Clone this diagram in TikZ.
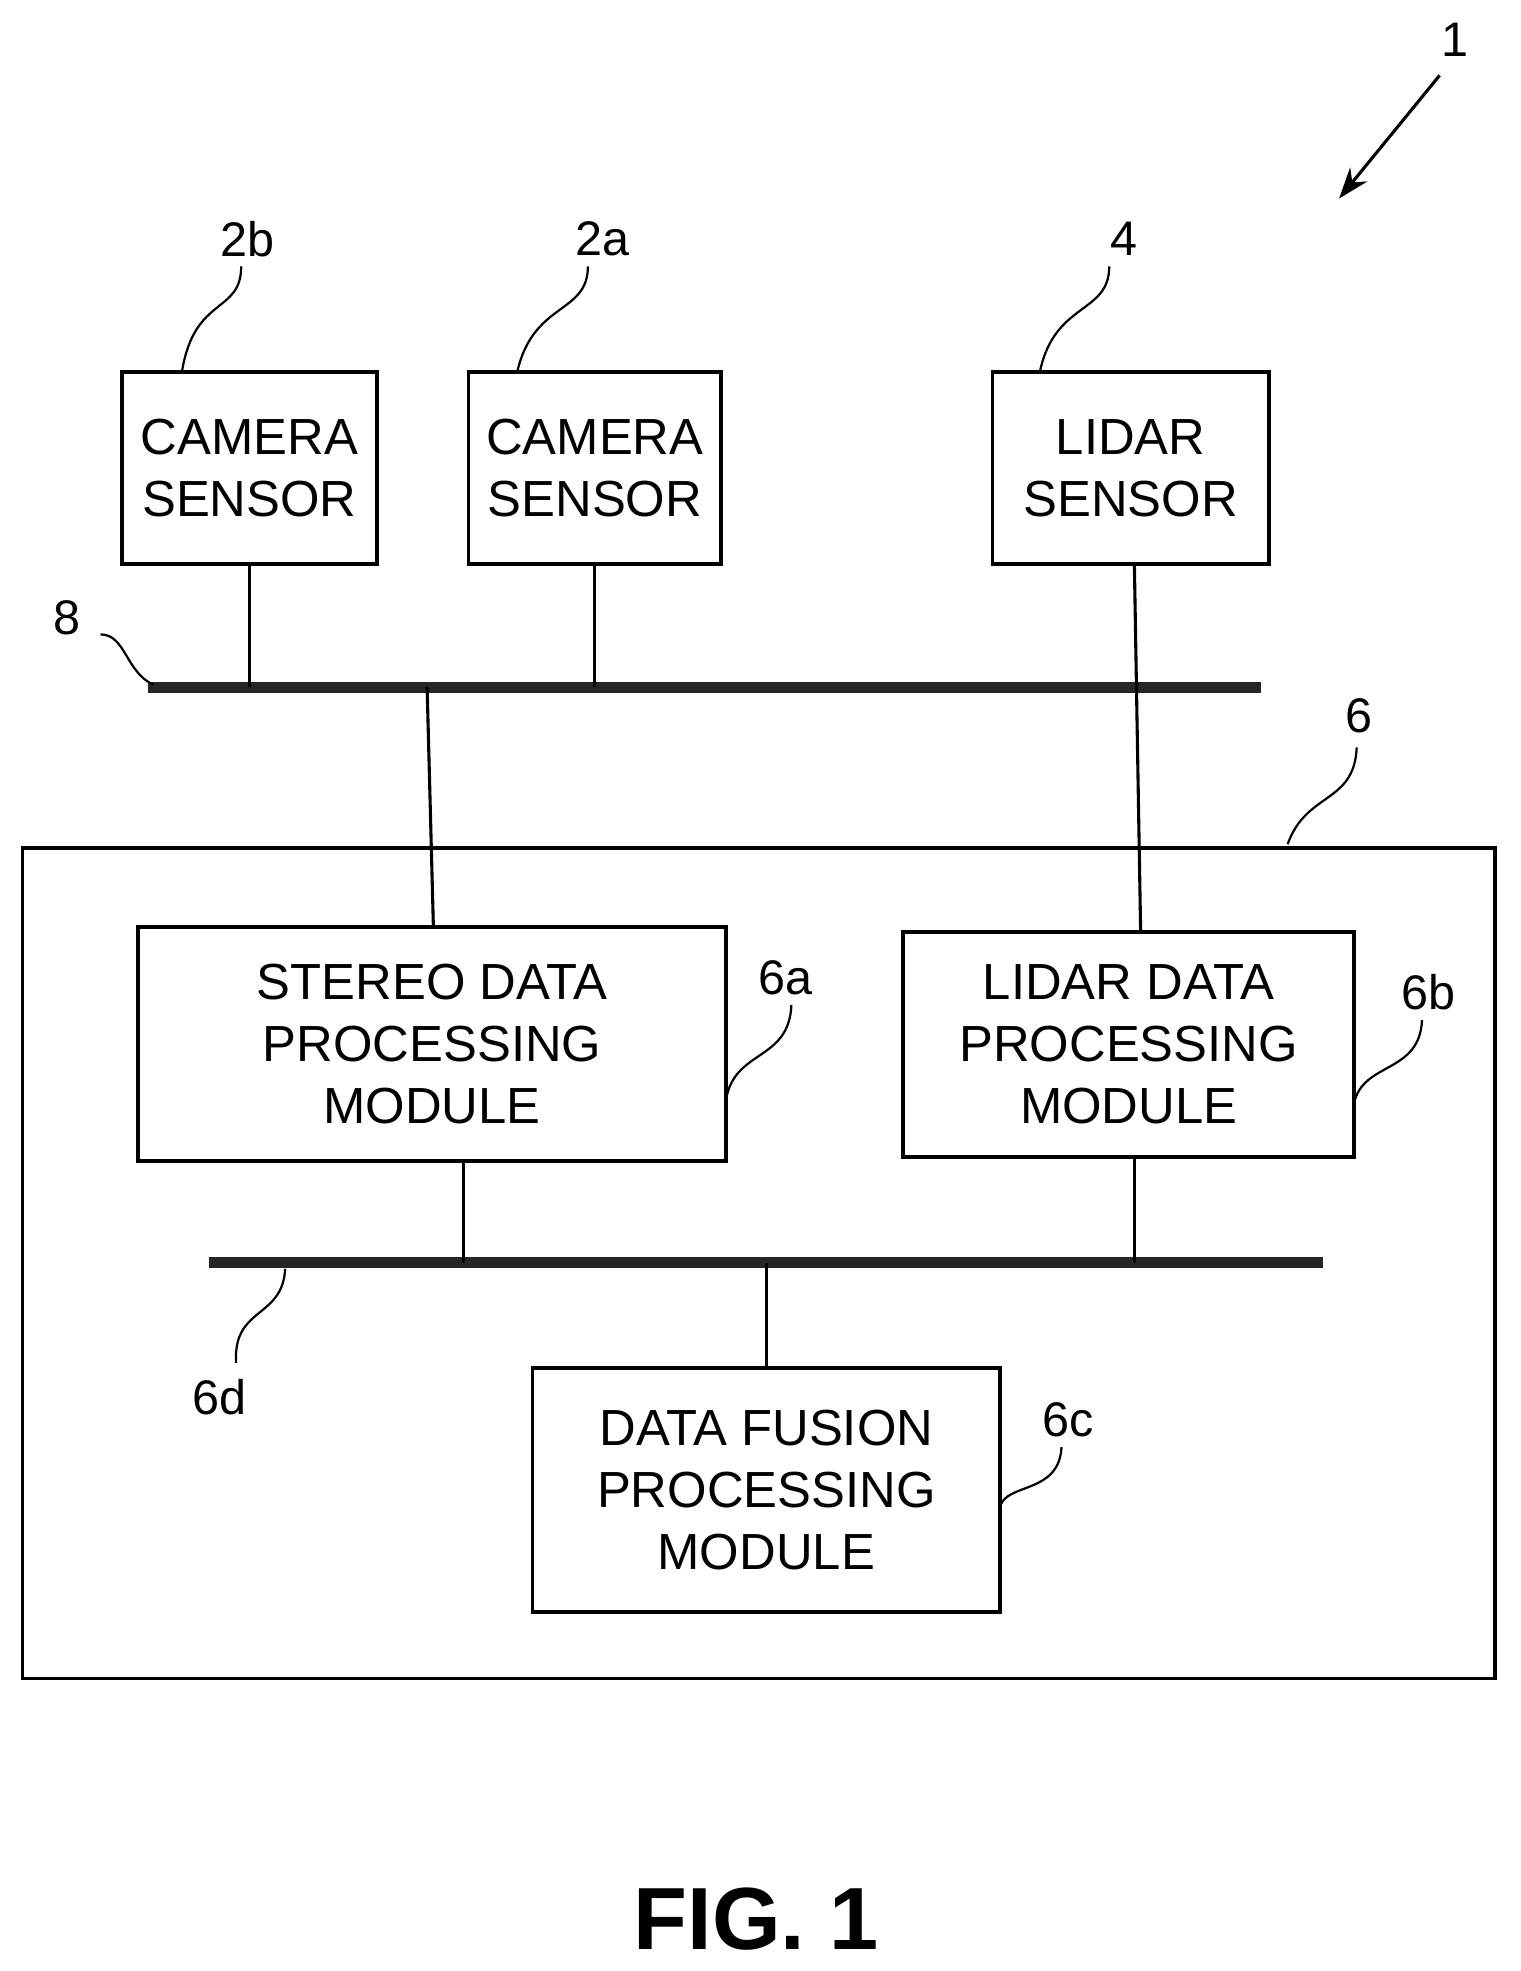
\documentclass[tikz,border=0pt]{standalone}
\usepackage{fontspec}
\setmainfont{Liberation Sans}
\usetikzlibrary{arrows.meta}
\begin{document}
\begin{tikzpicture}[x=0.02cm,y=-0.02cm,
 box/.style={draw,line width=1.6pt,align=center,font=\fontsize{23}{28}\selectfont,inner sep=0pt},
 bus/.style={line width=5pt,draw=black!85},
 wire/.style={line width=1.4pt},
 lab/.style={font=\fontsize{22}{26}\selectfont},
 lead/.style={line width=1pt}]
\useasboundingbox (0,0) rectangle (1210,1569);
% boxes
\node[box,minimum width=203*0.02cm,minimum height=153*0.02cm] (c2b) at (198.5,372.5) {CAMERA\\SENSOR};
\node[box,minimum width=201*0.02cm,minimum height=153*0.02cm] (c2a) at (473.5,372.5) {CAMERA\\SENSOR};
\node[box,minimum width=220*0.02cm,minimum height=153*0.02cm] (lid) at (900,372.5) {LIDAR\\SENSOR};
\node[draw,line width=1.6pt,minimum width=1172*0.02cm,minimum height=661*0.02cm,inner sep=0pt] (ecu) at (604,1005.5) {};
\node[box,minimum width=468*0.02cm,minimum height=186*0.02cm] (sdp) at (344,831) {STEREO DATA\\PROCESSING\\MODULE};
\node[box,minimum width=359*0.02cm,minimum height=179*0.02cm] (ldp) at (898.5,831.5) {LIDAR DATA\\PROCESSING\\MODULE};
\node[box,minimum width=372*0.02cm,minimum height=194*0.02cm] (dfp) at (610,1186) {DATA FUSION\\PROCESSING\\MODULE};
% buses
\coordinate (b8l) at (118,547); \coordinate (b8r) at (1004,547);
\coordinate (b6l) at (166,1005); \coordinate (b6r) at (1053,1005);
\draw[bus] (b8l) -- (b8r);
\draw[bus] (b6l) -- (b6r);
% wires
\draw[wire] (c2b.south) -- (c2b.south |- b8l);
\draw[wire] (c2a.south) -- (c2a.south |- b8l);
\draw[wire] (903,449) -- (908,742);
\draw[wire] (340,547) -- (345,738);
\draw[wire] (369,924) -- (369,1005);
\draw[wire] (903,921) -- (903,1005);
\draw[wire] (610,1005) -- (dfp.north);
% labels
\node[lab] (l1) at (1158,32) {1};
\draw[line width=1.4pt,-{Stealth[length=14pt,width=10pt]}] (1146,60) -- (1066,158);
\node[lab] (l2b) at (197,190) {2b};
\draw[lead] (192,212) .. controls (192,250) and (155,235) .. (145,295);
\node[lab] (l2a) at (480,190) {2a};
\draw[lead] (468,212) .. controls (468,250) and (425,240) .. (412,295);
\node[lab] (l4) at (895,190) {4};
\draw[lead] (883,212) .. controls (883,250) and (840,240) .. (828,295);
\node[lab] (l8) at (53,492) {8};
\draw[lead] (80,505) .. controls (100,505) and (100,535) .. (122,545);
\node[lab] (l6) at (1082,570) {6};
\draw[lead] (1080,595) .. controls (1078,640) and (1040,630) .. (1025,672);
\node[lab] (l6a) at (625,778) {6a};
\draw[lead] (630,800) .. controls (628,845) and (585,835) .. (578,875);
\node[lab] (l6b) at (1137,790) {6b};
\draw[lead] (1132,812) .. controls (1130,855) and (1085,845) .. (1078,878);
\node[lab] (l6d) at (175,1112) {6d};
\draw[lead] (227,1010) .. controls (225,1050) and (185,1040) .. (188,1085);
\node[lab] (l6c) at (850,1130) {6c};
\draw[lead] (845,1152) .. controls (843,1190) and (800,1180) .. (796,1200);
\node[font=\fontsize{40}{44}\selectfont\bfseries] (fig) at (602,1528) {FIG. 1};
\end{tikzpicture}
\end{document}
